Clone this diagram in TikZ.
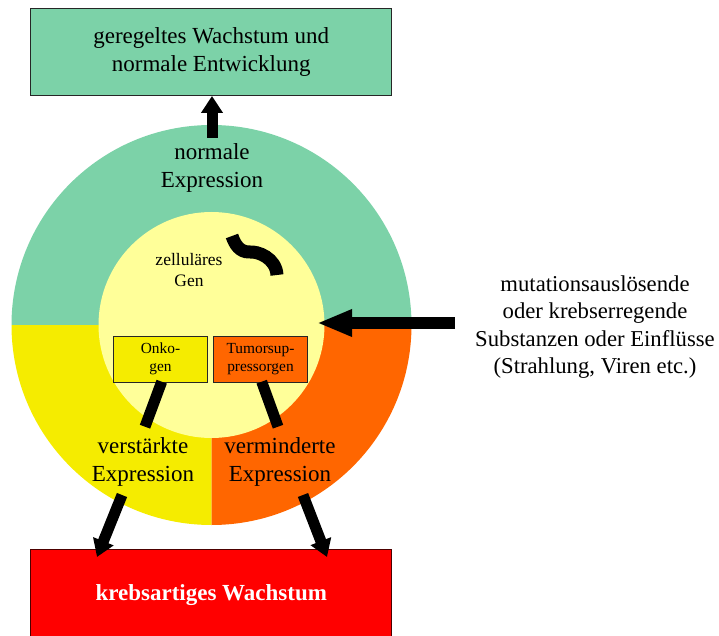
\documentclass[tikz,border=0pt]{standalone}
\usepackage{fontspec}
\setmainfont{Liberation Serif}
\usetikzlibrary{arrows.meta}
\definecolor{ringgreen}{RGB}{124,210,168}
\definecolor{ringyellow}{RGB}{245,236,0}
\definecolor{ringorange}{RGB}{255,102,0}
\definecolor{innery}{RGB}{255,255,153}
\definecolor{boxred}{RGB}{255,0,0}
\tikzset{
  bigtext/.style={font=\fontsize{23}{28}\selectfont, align=center, inner sep=0pt},
  smalltext/.style={font=\fontsize{15.4}{18}\selectfont, align=center, inner sep=0pt},
  genbox/.style={draw=black!85, line width=1pt, minimum width=94pt, minimum height=46.5pt, inner sep=0pt, align=center, font=\fontsize{15.4}{18}\selectfont},
  bigbox/.style={draw=black!85, line width=1pt, minimum width=361pt, inner sep=0pt, align=center},
  fatarrow/.style={line width=11pt, -{Triangle[width=21pt,length=17pt]}},
  fatline/.style={line width=11pt}
}
\begin{document}
\begin{tikzpicture}[x=1pt,y=1pt]
\useasboundingbox (0,0) rectangle (719,635);
% ring
\coordinate (c) at (211.5,310);
\fill[ringgreen] (411.5,310) arc[start angle=0,end angle=180,radius=200pt] -- cycle;
\fill[ringyellow] (c) -- (11.5,310) arc[start angle=180,end angle=270,radius=200pt] -- cycle;
\fill[ringorange] (c) -- (211.5,110) arc[start angle=270,end angle=360,radius=200pt] -- cycle;
\fill[innery] (c) circle[radius=113pt];
% boxes
\node[bigbox, fill=ringgreen, minimum height=87pt, font=\fontsize{23}{28}\selectfont] (top) at (211.2,583) {geregeltes Wachstum und\\normale Entwicklung};
\node[bigbox, fill=boxred, draw=black!70!red, minimum height=92pt, text=white, font=\fontsize{23}{28}\selectfont\bfseries] (cancer) at (211.3,40) {krebsartiges Wachstum};
\node[genbox, fill=ringyellow] (onko) at (160.5,275.7) {Onko-\\gen};
\node[genbox, fill=ringorange] (tumor) at (260.5,275.7) {Tumorsup-\\pressorgen};
% texts
\node[bigtext] (normal) at (212,467) {normale\\Expression};
\node[font=\fontsize{17.5}{21}\selectfont, align=center, inner sep=0pt] (gen) at (189,365) {zelluläres\\Gen};
\node[bigtext] (verst) at (143,173) {verstärkte\\Expression};
\node[bigtext] (vermin) at (280,173) {verminderte\\Expression};
\node[font=\fontsize{22.7}{27.5}\selectfont, align=center, inner sep=0pt] (mut) at (595,308) {mutationsauslösende\\oder krebserregende\\Substanzen oder Einflüsse\\(Strahlung, Viren etc.)};
% squiggle
\draw[line width=13pt] (232,399) .. controls (235,390) and (240,383) .. (249,383) .. controls (258,384) and (276,377) .. (277,360);
% arrows
\coordinate (ntop) at (212,497);
\draw[fatarrow] (ntop) -- (top.south -| ntop);
\coordinate (mstart) at (455,312);
\coordinate (mtip) at (317,312);
\draw[line width=12pt, -{Triangle[width=25pt,length=35pt]}] (mstart) -- (mtip);
\coordinate (l1) at (161.7,253.3);
\coordinate (l2) at (145,208.3);
\draw[fatline] (l1) -- (l2);
\coordinate (r1) at (261.7,253.3);
\coordinate (r2) at (278,208.3);
\draw[fatline] (r1) -- (r2);
\coordinate (bl1) at (122,140);
\coordinate (bl2) at (97,78);
\draw[fatarrow] (bl1) -- (bl2);
\coordinate (br1) at (303,140);
\coordinate (br2) at (327,78);
\draw[fatarrow] (br1) -- (br2);
\end{tikzpicture}
\end{document}
